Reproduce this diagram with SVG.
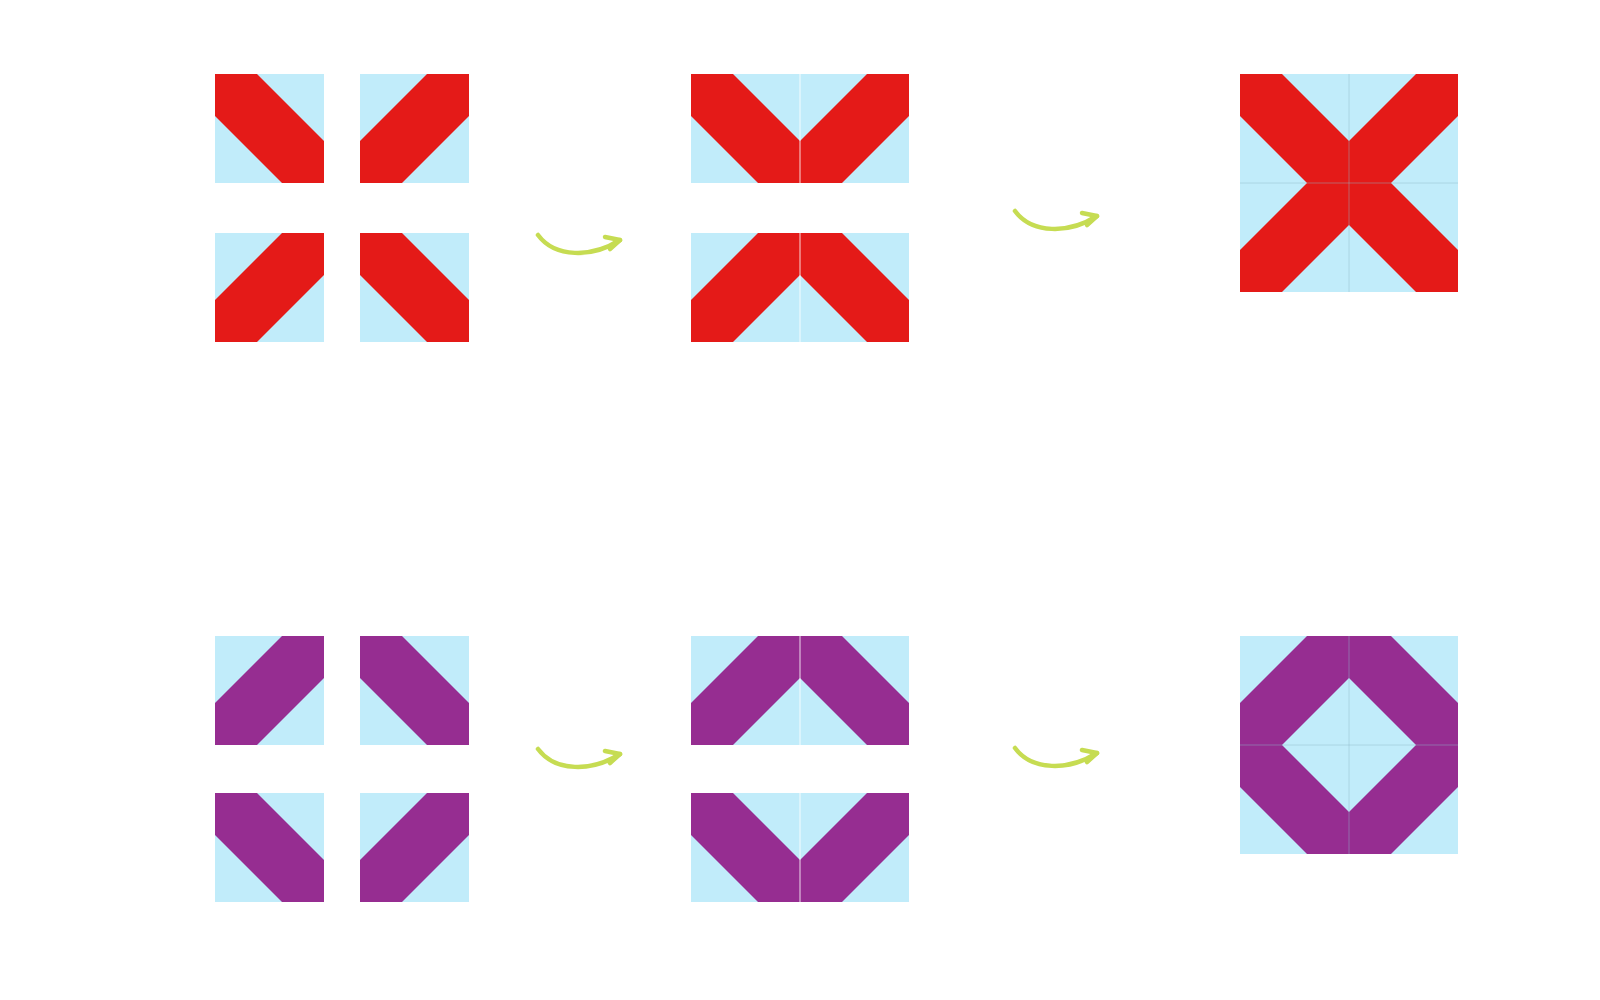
<svg xmlns="http://www.w3.org/2000/svg" xmlns:xlink="http://www.w3.org/1999/xlink" width="1600" height="1000" viewBox="0 0 1600 1000">
<style>
.bg{fill:#c1ecfa}
.red{fill:#e41a18}
.pur{fill:#962d91}
.arrow{fill:none;stroke:#c6dc52;stroke-width:4.5;stroke-linecap:round;stroke-linejoin:round}
.seamL{stroke:#ffffff;stroke-width:1.5;opacity:0.55}
.seamD{stroke:#8fb8c8;stroke-width:1;opacity:0.45}
</style>
<defs>
<g id="rB"><rect class="bg" width="109" height="109"/><polygon class="red" points="0,0 42,0 109,67 109,109 67,109 0,42"/></g>
<g id="rF"><rect class="bg" width="109" height="109"/><polygon class="red" points="109,0 109,42 42,109 0,109 0,67 67,0"/></g>
<g id="pB"><rect class="bg" width="109" height="109"/><polygon class="pur" points="0,0 42,0 109,67 109,109 67,109 0,42"/></g>
<g id="pF"><rect class="bg" width="109" height="109"/><polygon class="pur" points="109,0 109,42 42,109 0,109 0,67 67,0"/></g>
<g id="arw"><path d="M538,235 C555,258 592,258 620,240"/><path d="M605,237 L620,240 L610,249"/></g>
</defs>
<rect width="1600" height="1000" fill="#ffffff"/>

<g id="red-separate">
<use href="#rB" x="215" y="74"/>
<use href="#rF" x="360" y="74"/>
<use href="#rF" x="215" y="233"/>
<use href="#rB" x="360" y="233"/>
</g>

<g id="red-pairs">
<use href="#rB" x="691" y="74"/>
<use href="#rF" x="800" y="74"/>
<use href="#rF" x="691" y="233"/>
<use href="#rB" x="800" y="233"/>
<line class="seamL" x1="800" y1="74" x2="800" y2="183"/>
<line class="seamL" x1="800" y1="233" x2="800" y2="342"/>
</g>

<g id="red-x">
<use href="#rB" x="1240" y="74"/>
<use href="#rF" x="1349" y="74"/>
<use href="#rF" x="1240" y="183"/>
<use href="#rB" x="1349" y="183"/>
<line class="seamD" x1="1349" y1="74" x2="1349" y2="292"/>
<line class="seamD" x1="1240" y1="183" x2="1458" y2="183"/>
</g>

<g id="purple-separate">
<use href="#pF" x="215" y="636"/>
<use href="#pB" x="360" y="636"/>
<use href="#pB" x="215" y="793"/>
<use href="#pF" x="360" y="793"/>
</g>

<g id="purple-pairs">
<use href="#pF" x="691" y="636"/>
<use href="#pB" x="800" y="636"/>
<use href="#pB" x="691" y="793"/>
<use href="#pF" x="800" y="793"/>
<line class="seamL" x1="800" y1="636" x2="800" y2="745"/>
<line class="seamL" x1="800" y1="793" x2="800" y2="902"/>
</g>

<g id="purple-octagon">
<use href="#pF" x="1240" y="636"/>
<use href="#pB" x="1349" y="636"/>
<use href="#pB" x="1240" y="745"/>
<use href="#pF" x="1349" y="745"/>
<line class="seamD" x1="1349" y1="636" x2="1349" y2="854"/>
<line class="seamD" x1="1240" y1="745" x2="1458" y2="745"/>
</g>

<g id="connectors" class="arrow">
<use href="#arw"/>
<use href="#arw" transform="translate(477,-24)"/>
<use href="#arw" transform="translate(0,514)"/>
<use href="#arw" transform="translate(477,513)"/>
</g>
</svg>
